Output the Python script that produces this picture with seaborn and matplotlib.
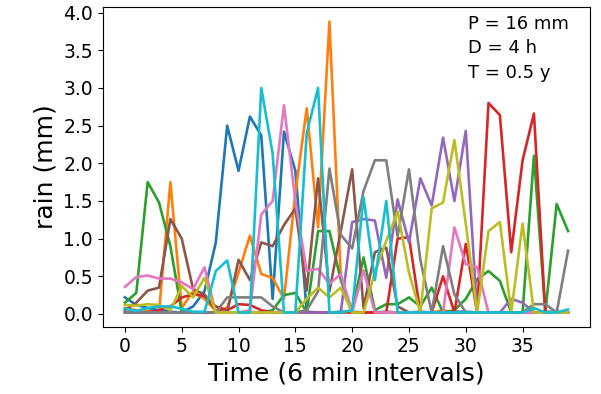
import numpy as np
import pandas as pd
import matplotlib
matplotlib.use("Agg")
import matplotlib.pyplot as plt
import seaborn as sns

time = list(range(40))
blue = [0.22, 0.12, 0.08, 0.05, 0.03, 0.02, 0.10, 0.30, 0.95, 2.50, 1.90, 2.62, 2.37, 0.20, 2.42, 1.90,
        0.03, 0.02, 0.02, 0.03, 0.03, 0.02, 0.02, 0.03, 0.02, 0.02, 0.03, 0.02, 0.02, 0.03,
        0.03, 0.02, 0.02, 0.02, 0.02, 0.02, 0.02, 0.03, 0.03, 0.02]
orange = [0.08, 0.05, 0.04, 0.02, 1.75, 0.08, 0.30, 0.20, 0.04, 0.08, 0.55, 1.04, 0.53, 0.48, 0.20, 1.60,
          2.73, 1.15, 3.88, 0.50, 0.02, 0.02, 0.02, 0.02, 0.02, 0.02, 0.02, 0.02, 0.05, 0.02,
          0.02, 0.02, 0.02, 0.02, 0.02, 0.02, 0.02, 0.02, 0.02, 0.02]
green = [0.15, 0.28, 1.75, 1.48, 0.90, 0.02, 0.02, 0.02, 0.02, 0.02, 0.02, 0.02, 0.02, 0.05, 0.25, 0.28,
         0.02, 1.10, 1.10, 0.45, 0.05, 0.75, 0.05, 0.13, 0.13, 0.22, 0.10, 0.35, 0.02, 0.05,
         0.20, 0.46, 0.57, 0.44, 0.02, 0.02, 2.10, 0.02, 1.46, 1.10]
red = [0.02, 0.02, 0.02, 0.05, 0.10, 0.22, 0.26, 0.24, 0.10, 0.05, 0.13, 0.12, 0.05, 0.02, 0.02, 0.02,
       0.02, 0.02, 0.02, 0.02, 0.02, 0.02, 0.02, 0.02, 1.00, 1.02, 0.02, 0.02, 0.50, 0.02,
       0.93, 0.02, 2.80, 2.64, 0.82, 2.04, 2.66, 0.02, 0.02, 0.02]
purple = [0.02] * 20 + [1.22, 1.26, 1.24, 0.48, 1.52, 0.95, 1.80, 1.44, 2.34, 1.50,
                        2.43, 0.02, 0.02, 0.02, 0.20, 0.15, 0.02, 0.02, 0.02, 0.02]
brown = [0.05, 0.15, 0.31, 0.35, 1.26, 1.00, 0.33, 0.26, 0.05, 0.02, 0.72, 0.45, 0.95, 0.90, 1.18, 1.40,
         0.31, 1.80, 0.30, 1.10, 1.92, 0.08, 0.82, 0.88, 0.10, 0.02, 0.02, 0.02, 0.02, 0.02,
         0.02, 0.02, 0.02, 0.02, 0.02, 0.02, 0.02, 0.02, 0.02, 0.02]
pink = [0.36, 0.49, 0.51, 0.47, 0.47, 0.42, 0.33, 0.62, 0.02, 0.02, 0.02, 0.05, 1.32, 1.50, 2.77, 1.50,
        0.57, 0.60, 0.40, 0.53, 0.02, 0.58, 0.02, 0.02, 0.02, 0.02, 0.02, 0.02, 0.02, 1.15,
        0.66, 0.62, 0.02, 0.02, 0.02, 0.02, 0.02, 0.02, 0.02, 0.02]
gray = [0.02, 0.02, 0.02, 0.02, 0.02, 0.02, 0.02, 0.02, 0.02, 0.22, 0.22, 0.22, 0.22, 0.10, 0.02, 0.02,
        0.05, 0.30, 1.93, 1.05, 0.87, 1.63, 2.04, 2.04, 1.03, 1.92, 0.72, 0.02, 0.90, 0.26,
        0.02, 0.02, 0.02, 0.02, 0.02, 0.02, 0.13, 0.13, 0.02, 0.84]
olive = [0.12, 0.11, 0.13, 0.12, 0.05, 0.37, 0.22, 0.48, 0.02, 0.02, 0.02, 0.02, 0.02, 0.02, 0.02, 0.02,
         0.20, 0.35, 0.22, 0.35, 0.02, 0.02, 0.55, 0.97, 1.36, 0.55, 0.02, 1.40, 1.48, 2.31,
         1.20, 0.02, 1.10, 1.22, 0.02, 1.20, 0.02, 0.02, 0.02, 0.02]
cyan = [0.07, 0.04, 0.08, 0.10, 0.10, 0.07, 0.03, 0.03, 0.57, 0.71, 0.02, 0.02, 3.00, 2.13, 0.02, 0.02,
        2.40, 3.00, 0.02, 0.02, 0.05, 1.55, 0.45, 1.50, 0.02, 0.02, 0.02, 0.02, 0.02, 0.02,
        0.02, 0.02, 0.02, 0.02, 0.02, 0.02, 0.08, 0.02, 0.02, 0.06]

series = [blue, orange, green, red, purple, brown, pink, gray, olive, cyan]
annotation = "P = 16 mm\nD = 4 h\nT = 0.5 y"

frames = []
for i, s in enumerate(series):
    frames.append(pd.DataFrame({"time": time, "rain": s, "event": i}))
df = pd.concat(frames, ignore_index=True)

fig = plt.figure(figsize=(6.01, 3.94), dpi=100)
ax = fig.add_axes([0.171, 0.170, 0.811, 0.812])
sns.lineplot(data=df, x="time", y="rain", hue="event", palette="tab10",
             legend=False, linewidth=1.9, ax=ax, estimator=None, sort=False)
ax.set_xlabel("Time (6 min intervals)", fontsize=18)
ax.set_ylabel("rain (mm)", fontsize=18)
ax.set_xticks([0, 5, 10, 15, 20, 25, 30, 35])
ax.set_yticks([0.0, 0.5, 1.0, 1.5, 2.0, 2.5, 3.0, 3.5, 4.0])
ax.tick_params(labelsize=13.5)
ax.text(0.75, 0.975, annotation, transform=ax.transAxes, fontsize=13,
        va="top", ha="left", linespacing=1.45)
fig.savefig("out.png", dpi=100)
